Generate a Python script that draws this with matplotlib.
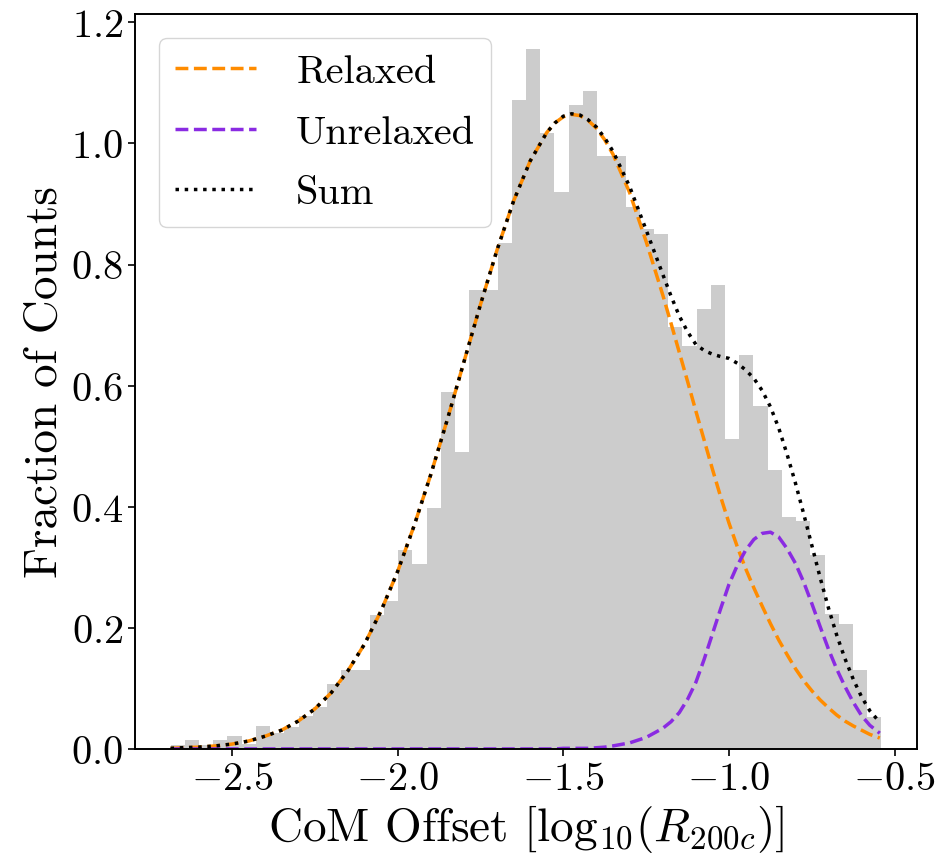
import numpy as np
import matplotlib
matplotlib.use("Agg")
import matplotlib.pyplot as plt

plt.rcParams['font.family'] = ['cmr10', 'DejaVu Serif']
plt.rcParams['mathtext.fontset'] = 'cm'
plt.rcParams['axes.formatter.use_mathtext'] = True

# histogram of CoM offsets: 50 bins, heights as fraction of counts
bin_lo = -2.685
bin_hi = -0.540
frac = [0.006, 0.014, 0.007, 0.014, 0.022, 0.008, 0.038, 0.027, 0.036, 0.054,
        0.069, 0.107, 0.130, 0.130, 0.222, 0.244, 0.329, 0.306, 0.398, 0.590,
        0.490, 0.758, 0.758, 0.835, 1.072, 1.156, 1.018, 0.920, 1.064, 1.087,
        0.980, 0.980, 0.895, 0.858, 0.850, 0.697, 0.666, 0.726, 0.766, 0.512,
        0.650, 0.566, 0.460, 0.383, 0.376, 0.321, 0.223, 0.207, 0.131, 0.052]

# fitted components
x_fit = [-2.685, -2.65, -2.60, -2.55, -2.50, -2.45, -2.40, -2.35, -2.30, -2.25,
         -2.20, -2.15, -2.10, -2.05, -2.00, -1.95, -1.90, -1.85, -1.80, -1.75,
         -1.70, -1.65, -1.60, -1.55, -1.525, -1.50, -1.475, -1.45, -1.425, -1.40,
         -1.375, -1.35, -1.30, -1.25, -1.20, -1.175, -1.15, -1.125, -1.10, -1.075,
         -1.05, -1.025, -1.00, -0.975, -0.95, -0.925, -0.90, -0.875, -0.85, -0.825,
         -0.80, -0.775, -0.75, -0.725, -0.70, -0.675, -0.65, -0.625, -0.60, -0.575,
         -0.545]
relaxed = [0.001, 0.002, 0.003, 0.005, 0.008, 0.013, 0.021, 0.031, 0.046, 0.066,
           0.093, 0.129, 0.173, 0.228, 0.293, 0.369, 0.453, 0.544, 0.639, 0.734,
           0.824, 0.905, 0.971, 1.018, 1.034, 1.044, 1.048, 1.046, 1.038, 1.025,
           1.006, 0.982, 0.919, 0.838, 0.750, 0.703, 0.655, 0.607, 0.558, 0.510,
           0.462, 0.416, 0.373, 0.334, 0.298, 0.266, 0.236, 0.207, 0.180, 0.156,
           0.133, 0.113, 0.096, 0.081, 0.068, 0.056, 0.046, 0.038, 0.031, 0.024,
           0.018]
unrelaxed = [0.0, 0.0, 0.0, 0.0, 0.0, 0.0, 0.0, 0.0, 0.0, 0.0,
             0.0, 0.0, 0.0, 0.0, 0.0, 0.0, 0.0, 0.0, 0.0, 0.0,
             0.0, 0.0, 0.0, 0.0, 0.0, 0.001, 0.001, 0.001, 0.001, 0.002,
             0.003, 0.005, 0.010, 0.019, 0.034, 0.045, 0.060, 0.082, 0.110, 0.148,
             0.190, 0.232, 0.272, 0.303, 0.328, 0.346, 0.356, 0.358, 0.350, 0.331,
             0.307, 0.276, 0.240, 0.202, 0.165, 0.132, 0.103, 0.077, 0.055, 0.039,
             0.026]

edges = np.linspace(bin_lo, bin_hi, len(frac) + 1)
total = np.array(relaxed) + np.array(unrelaxed)

fig = plt.figure(figsize=(9.38, 8.62), dpi=100)
ax = fig.add_axes([0.144, 0.130, 0.8336, 0.8526])

ax.bar(edges[:-1], frac, width=np.diff(edges), align='edge', color='0.8', linewidth=0)
ax.plot(x_fit, relaxed, '--', color='darkorange', lw=2.5, label='Relaxed')
ax.plot(x_fit, unrelaxed, '--', color='blueviolet', lw=2.5, label='Unrelaxed')
ax.plot(x_fit, total, ':', color='black', lw=2.5, label='Sum')

ax.set_xticks([-2.5, -2.0, -1.5, -1.0, -0.5])
ax.set_yticks([0.0, 0.2, 0.4, 0.6, 0.8, 1.0, 1.2])
ax.tick_params(labelsize=29, length=5, width=1.2)
for s in ax.spines.values():
    s.set_linewidth(1.4)

ax.set_xlabel(r'CoM Offset [$\mathrm{log}_{10}(R_{200c})$]', fontsize=34)
ax.set_ylabel('Fraction of Counts', fontsize=34)
ax.legend(loc='upper left', fontsize=29, labelspacing=0.6, handletextpad=1.0,
          borderaxespad=0.6)

fig.savefig('out.png', dpi=100)
